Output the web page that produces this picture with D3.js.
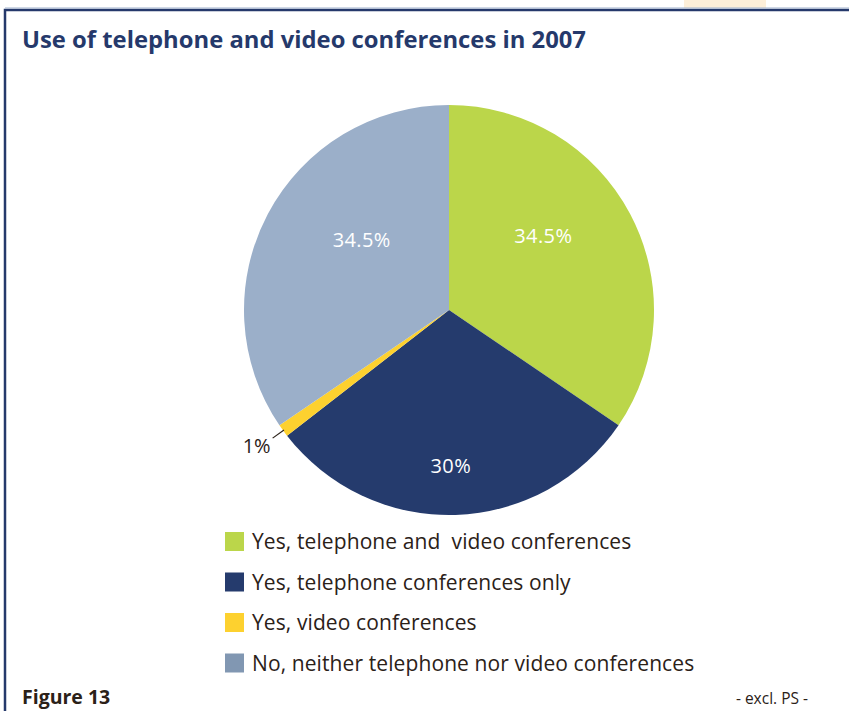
<!DOCTYPE html>
<html>
<head>
<meta charset="utf-8">
<script src="https://cdn.jsdelivr.net/npm/d3@7"></script>
<style>
  html, body { margin: 0; padding: 0; background: #ffffff; }
  svg { display: block; }
</style>
</head>
<body>
<script>
// Survey answers, 2007
const categories = [
  "Yes, telephone and  video conferences",
  "Yes, telephone conferences only",
  "Yes, video conferences",
  "No, neither telephone nor video conferences"
];
const shares = [34.5, 30, 1, 34.5];
const valueLabels = ["34.5%", "30%", "1%", "34.5%"];
const sliceColors = ["#bbd64a", "#253b6d", "#fdd12f", "#9bafc9"];
const swatchColors = ["#bbd64a", "#253b6d", "#fdd12f", "#8197b2"];

const W = 849, H = 711;
const FONT = "'Open Sans', 'DejaVu Sans', sans-serif";
const svg = d3.select("body").append("svg").attr("width", W).attr("height", H);

// page decoration: tab at the top and the framed panel
svg.append("rect").attr("x", 684).attr("y", 0).attr("width", 82).attr("height", 8).attr("fill", "#fdefd9");
svg.append("path")
  .attr("d", `M5,${H + 5} V10 H${W + 5}`)
  .attr("fill", "none").attr("stroke", "#25396b").attr("stroke-width", 2.5);
svg.append("line").attr("x1", 5).attr("x2", W + 5).attr("y1", 8).attr("y2", 8)
  .attr("stroke", "#9fb1cc").attr("stroke-width", 1);

// title
svg.append("text")
  .attr("x", 22).attr("y", 48)
  .attr("font-family", FONT)
  .attr("font-weight", 700).attr("font-size", 23)
  .attr("fill", "#25396b")
  .attr("textLength", 564).attr("lengthAdjust", "spacingAndGlyphs")
  .text("Use of telephone and video conferences in 2007");

// pie
const cx = 449, cy = 310, R = 205;
const pie = d3.pie().sort(null).value(d => d.v);
const data = shares.map((v, i) => ({ v, i }));
const arcs = pie(data);
const arc = d3.arc().innerRadius(0).outerRadius(R);

const g = svg.append("g").attr("transform", `translate(${cx},${cy})`);
g.selectAll("path.slice").data(arcs).enter().append("path")
  .attr("class", "slice")
  .attr("d", arc)
  .attr("fill", d => sliceColors[d.data.i]);

// label placement: angular shift (radians) and radius for each inside label
const labelPlace = [
  { shift: -0.18, r: 120 },
  { shift: 0.02, r: 156 },
  null,
  { shift: 0.19, r: 112 }
];
arcs.forEach((d, k) => {
  const p = labelPlace[k];
  if (!p) return;
  const a = (d.startAngle + d.endAngle) / 2 + p.shift;
  g.append("text")
    .attr("x", p.r * Math.sin(a))
    .attr("y", -p.r * Math.cos(a))
    .attr("dy", "0.35em")
    .attr("text-anchor", "middle")
    .attr("font-family", FONT)
    .attr("font-size", 20)
    .attr("letter-spacing", 0.4)
    .attr("fill", "#ffffff")
    .text(valueLabels[k]);
});

// small slice: label outside with a leader line
{
  const d = arcs[2];
  const a = (d.startAngle + d.endAngle) / 2;
  const p = r => [r * Math.sin(a), -r * Math.cos(a)];
  const [x1, y1] = p(R - 1), [x2, y2] = p(R + 13);
  g.append("line").attr("x1", x1).attr("y1", y1).attr("x2", x2).attr("y2", y2)
    .attr("stroke", "#2b2118").attr("stroke-width", 1.2);
  g.append("text")
    .attr("x", x2 - 2).attr("y", y2 + 15)
    .attr("text-anchor", "end")
    .attr("font-family", FONT)
    .attr("font-size", 20)
    .attr("fill", "#2b2118")
    .text(valueLabels[2]);
}

// legend
const legend = svg.append("g").attr("transform", "translate(225,532)");
const rows = legend.selectAll("g").data(categories).enter().append("g")
  .attr("transform", (d, i) => `translate(0,${i * 40.5})`);
rows.append("rect").attr("width", 19).attr("height", 19)
  .attr("fill", (d, i) => swatchColors[i]);
rows.append("text")
  .attr("x", 27).attr("y", 17)
  .attr("font-family", FONT)
  .attr("font-size", 21)
  .attr("letter-spacing", 0.1)
  .attr("fill", "#2b2118")
  .attr("xml:space", "preserve")
  .style("white-space", "pre")
  .text(d => d);

// footer
svg.append("text").attr("x", 22).attr("y", 704)
  .attr("font-family", FONT)
  .attr("font-weight", 700).attr("font-size", 19.5)
  .attr("fill", "#2b2118")
  .text("Figure 13");
svg.append("text").attr("x", 808).attr("y", 704)
  .attr("text-anchor", "end")
  .attr("font-family", FONT)
  .attr("font-size", 15.5)
  .attr("fill", "#2b2118")
  .text("- excl. PS -");
</script>
</body>
</html>
